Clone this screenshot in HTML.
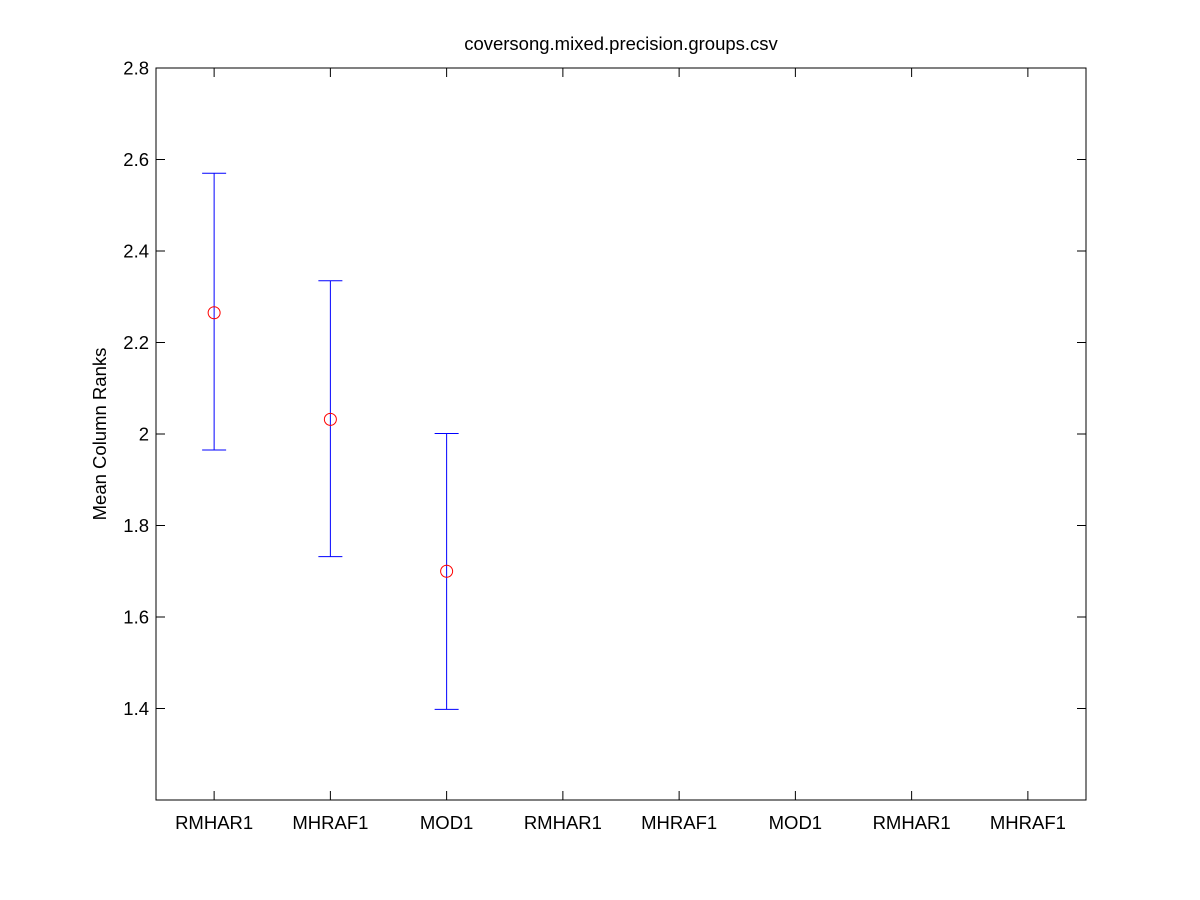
<!DOCTYPE html>
<html><head><meta charset="utf-8"><style>
html,body{margin:0;padding:0;background:#fff;}
svg{display:block;font-family:"Liberation Sans",Arial,sans-serif;}
</style></head><body>
<svg id="chart" width="1200" height="900" viewBox="0 0 1200 900">
<rect x="0" y="0" width="1200" height="900" fill="#fff"/>
<text x="621" y="50" font-size="18.5" text-anchor="middle">coversong.mixed.precision.groups.csv</text>
<text x="0" y="0" font-size="18.5" text-anchor="middle" transform="translate(106,434) rotate(-90)">Mean Column Ranks</text>
<rect x="156" y="68" width="930" height="732" fill="none" stroke="#000" stroke-width="1"/>
<g id="axes"></g>
<g id="marks"></g>
</svg>
<script>
const categories = ["RMHAR1","MHRAF1","MOD1","RMHAR1","MHRAF1","MOD1","RMHAR1","MHRAF1"];
const means = [2.265, 2.032, 1.700];
const lowers = [1.965, 1.732, 1.398];
const uppers = [2.570, 2.335, 2.001];
const yTicks = [1.4, 1.6, 1.8, 2.0, 2.2, 2.4, 2.6, 2.8];
const yTickLabels = ["1.4","1.6","1.8","2","2.2","2.4","2.6","2.8"];

const L=156,R=1086,T=68,B=800,yMin=1.2,yMax=2.8,xMin=0.5,xMax=8.5;
const xs=i=>L+(i+1-xMin)/(xMax-xMin)*(R-L);
const ys=v=>B-(v-yMin)/(yMax-yMin)*(B-T);
const NS="http://www.w3.org/2000/svg";
function mk(tag,attrs,parent){const e=document.createElementNS(NS,tag);for(const k in attrs)e.setAttribute(k,attrs[k]);parent.appendChild(e);return e;}
const ax=document.getElementById('axes'), mg=document.getElementById('marks');
yTicks.forEach((v,i)=>{
  const y=ys(v);
  const t1=mk('line',{x1:L,x2:L+9,y1:y,y2:y,stroke:'#000'},ax);
  
  
  const t2=mk('line',{x1:R-9,x2:R,y1:y,y2:y,stroke:'#000'},ax);
  
  
  const tx=mk('text',{x:L-7,y:y+6.5,'font-size':18.5,'text-anchor':'end'},ax);
  tx.textContent=yTickLabels[i];
  
  
});
categories.forEach((c,i)=>{
  const x=xs(i);
  const t1=mk('line',{x1:x,x2:x,y1:B,y2:B-9,stroke:'#000'},ax);
  
  
  const t2=mk('line',{x1:x,x2:x,y1:T,y2:T+9,stroke:'#000'},ax);
  
  
  const tx=mk('text',{x:x,y:B+29,'font-size':18.5,'text-anchor':'middle'},ax);
  tx.textContent=c;
  
  
});
means.forEach((m,i)=>{
  const x=xs(i), yl=ys(lowers[i]), yu=ys(uppers[i]), ym=ys(m);
  const v=mk('line',{x1:x,x2:x,y1:yu,y2:yl,stroke:'#0000ff'},mg);
  
  
  const c1=mk('line',{x1:x-12,x2:x+12,y1:yu,y2:yu,stroke:'#0000ff'},mg);
  
  
  const c2=mk('line',{x1:x-12,x2:x+12,y1:yl,y2:yl,stroke:'#0000ff'},mg);
  
  
  const p=mk('circle',{cx:x,cy:ym,r:6,fill:'none',stroke:'#ff0000'},mg);
  
  
});
</script>
</body></html>
